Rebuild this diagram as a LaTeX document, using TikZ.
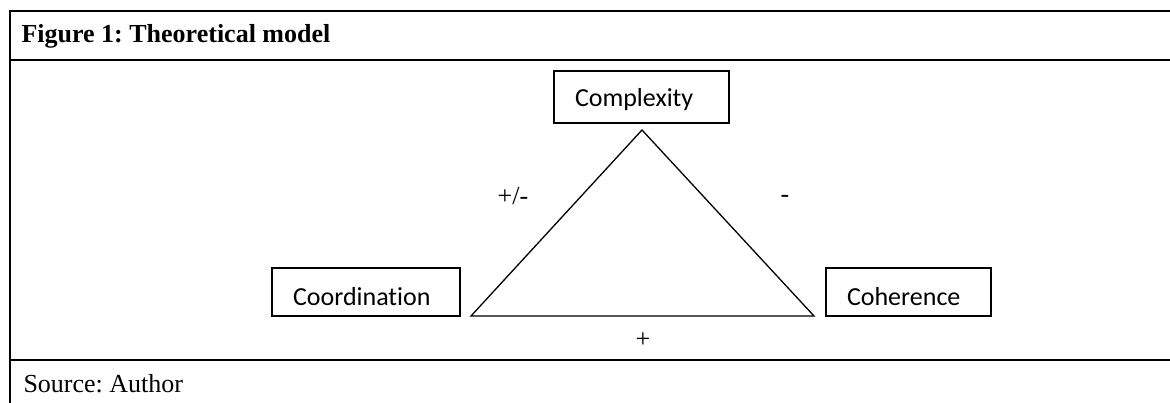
\documentclass[tikz,border=0pt]{standalone}
\usepackage{fontspec}
\setmainfont{Liberation Serif}
\newfontfamily\boxfont[Ligatures=NoCommon]{Carlito}
\frenchspacing
\tikzset{
  factor/.style={draw, line width=1.3pt, inner xsep=21pt, inner ysep=0pt,
    minimum height=#1, align=left, text height=27pt, text depth=0pt,
    font=\boxfont\fontsize{26}{30}\selectfont},
  factor/.default=48pt,
  sign/.style={inner sep=0pt, anchor=base, font=\fontsize{26}{30}\selectfont},
  rule/.style={line width=2pt}
}
\begin{document}
\begin{tikzpicture}[x=1pt,y=-1pt]
\useasboundingbox (0,0) rectangle (1170,403);

% frame of the figure
\draw[rule](9,11)--(1172,11);
\draw[rule](10,10)--(10,405);
\foreach \y in {60,360}
{
    \draw[rule](10,\y)--(1172,\y);
}
\node[anchor=west, font=\bfseries\fontsize{26}{30}\selectfont] (title) at (18,36) {Figure 1: Theoretical model};
\node[anchor=west, font=\fontsize{26}{30}\selectfont] (source) at (20,384) {Source: Author};

% the three factors
\node[factor=52pt, text width=133pt, text height=19pt] (cplx) at (641.5,97) {Complexity};
\node[factor, text width=146pt] (coord) at (366,292) {Coordination};
\node[factor, text width=123pt] (coh) at (908.5,292) {Coherence};

% triangle
\coordinate (top) at (642,130);
\coordinate (left) at (471,316);
\coordinate (right) at (814,316);
\draw[line width=1.3pt, line join=miter](top)--(right)--(left)--cycle;

\node[sign] (pm) at (513,205) {+/-};
\node[sign] (minus) at (785,203) {-};
\node[sign] (plus) at (643,347) {+};
\end{tikzpicture}
\end{document}
